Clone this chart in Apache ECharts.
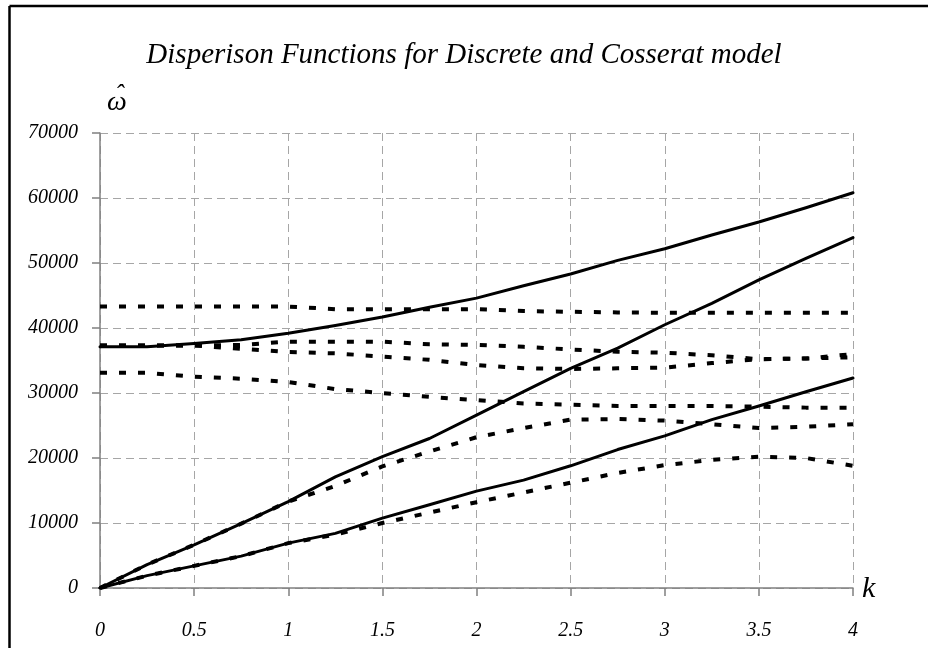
<!DOCTYPE html>
<html>
<head>
<meta charset="utf-8">
<script src="https://cdn.jsdelivr.net/npm/echarts@6/dist/echarts.min.js"></script>
<style>
html,body{margin:0;padding:0;background:#fff;}
#c{width:928px;height:648px;}
</style>
</head>
<body>
<div id="c"></div>
<script>
// k values (x axis)
var kValues = [0,0.25,0.5,0.75,1,1.25,1.5,1.75,2,2.25,2.5,2.75,3,3.25,3.5,3.75,4];
// y-axis tick labels
var yTicks = [0,10000,20000,30000,40000,50000,60000,70000];
var xTicks = [0,0.5,1,1.5,2,2.5,3,3.5,4];

// Solid curves (values in units of 1000)
var solidUpper = [37.1,37.1,37.6,38.2,39.2,40.4,41.7,43.2,44.6,46.5,48.3,50.4,52.2,54.3,56.3,58.5,60.8];
var solidMiddle = [0,3.6,6.65,9.9,13.3,17.1,20.2,23.0,26.6,30.2,33.8,36.9,40.5,43.8,47.4,50.7,53.9];
var solidLower = [0,1.9,3.4,4.9,6.9,8.4,10.75,12.8,14.9,16.6,18.8,21.3,23.4,25.9,28.0,30.2,32.3];

// Dashed curves (values in units of 1000)
var dashedA = [43.3,43.3,43.3,43.3,43.3,42.9,42.9,42.9,42.9,42.6,42.5,42.4,42.35,42.35,42.35,42.35,42.35];
var dashedB = [37.3,37.3,37.3,37.4,37.9,37.9,37.9,37.5,37.4,37.1,36.7,36.35,36.2,35.8,35.2,35.3,35.5];
var dashedC = [37.3,37.3,37.3,36.8,36.3,36.1,35.6,35.1,34.3,33.8,33.7,33.8,33.9,34.6,35.2,35.3,36.0];
var dashedD = [33.1,33.1,32.5,32.2,31.7,30.6,30.0,29.4,28.9,28.4,28.2,28.0,28.0,28.0,27.9,27.75,27.75];
var dashedE = [0,3.6,6.65,9.9,13.3,15.7,18.7,21.0,23.2,24.6,25.9,26.0,25.75,25.2,24.6,24.8,25.2];
var dashedF = [0,1.9,3.4,4.9,6.9,8.2,10.0,11.6,13.2,14.7,16.2,17.7,18.9,19.7,20.2,20.0,18.8];

var FONT = "'Liberation Serif', 'Times New Roman', serif";

function pts(arr){ return arr.map(function(v,i){ return [kValues[i], v*1000]; }); }
function solid(arr){
  return {type:'line', data:pts(arr), showSymbol:false, symbol:'none', smooth:false, silent:true,
    lineStyle:{color:'#000', width:3, type:'solid', cap:'round', join:'round'}, z:3};
}
function dashed(arr){
  return {type:'line', data:pts(arr), showSymbol:false, symbol:'none', smooth:false, silent:true,
    lineStyle:{color:'#000', width:4, type:[7,12], cap:'butt'}, z:2};
}

var chart = echarts.init(document.getElementById('c'), null, {renderer:'canvas'});
chart.setOption({
  animation:false,
  backgroundColor:'#fff',
  title:{
    text:'Disperison Functions for Discrete and Cosserat model',
    left:'center', top:36,
    textStyle:{fontFamily:FONT, fontStyle:'italic', fontWeight:'normal', fontSize:29, color:'#000'}
  },
  grid:{left:100, right:75, top:133, bottom:60, containLabel:false},
  xAxis:{
    type:'value', min:0, max:4, interval:0.5,
    axisLine:{show:true, onZero:false, lineStyle:{color:'#808080', width:1.5}},
    axisTick:{show:true, inside:false, length:8, lineStyle:{color:'#808080', width:1.5}},
    axisLabel:{margin:33, fontFamily:FONT, fontStyle:'italic', fontSize:20, color:'#000',
      formatter:function(v){ return String(v); }},
    splitLine:{show:true, lineStyle:{color:'#a6a6a6', width:1, type:[8,5]}}
  },
  yAxis:{
    type:'value', min:0, max:70000, interval:10000,
    axisLine:{show:true, onZero:false, lineStyle:{color:'#808080', width:1.5}},
    axisTick:{show:true, inside:false, length:8, lineStyle:{color:'#808080', width:1.5}},
    axisLabel:{margin:22, fontFamily:FONT, fontStyle:'italic', fontSize:20, color:'#000',
      formatter:function(v){ return String(v); }},
    splitLine:{show:true, lineStyle:{color:'#a6a6a6', width:1, type:[8,5]}}
  },
  graphic:[
    {type:'line', shape:{x1:9.5, y1:6, x2:928, y2:6}, style:{stroke:'#000', lineWidth:2.5}, silent:true},
    {type:'line', shape:{x1:9.5, y1:6, x2:9.5, y2:648}, style:{stroke:'#000', lineWidth:2.5}, silent:true},
    {type:'text', left:107, top:89, style:{text:'\u03C9', font:'italic 28px ' + FONT, fill:'#000'}, silent:true},
    {type:'text', left:115, top:82, style:{text:'\u02C6', font:'italic 26px ' + FONT, fill:'#000'}, silent:true},
    {type:'text', left:862, top:574, style:{text:'k', font:'italic 30px ' + FONT, fill:'#000'}, silent:true}
  ],
  series:[
    dashed(dashedA), dashed(dashedB), dashed(dashedC), dashed(dashedD), dashed(dashedE), dashed(dashedF),
    solid(solidUpper), solid(solidMiddle), solid(solidLower)
  ]
});
</script>
</body>
</html>
